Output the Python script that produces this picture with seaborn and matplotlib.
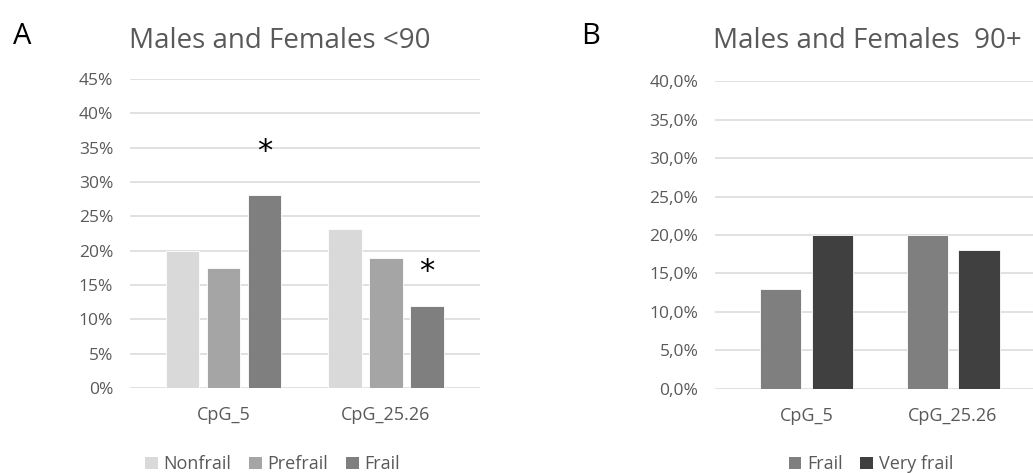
import matplotlib
matplotlib.use("Agg")
import matplotlib.pyplot as plt
from matplotlib.patches import Patch
from matplotlib.ticker import FuncFormatter
import pandas as pd
import seaborn as sns

# Panel A: under 90 years
cpg_sites = ["CpG_5", "CpG_25.26"]
groups_a = ["Nonfrail", "Prefrail", "Frail"]
nonfrail_a = [20.0, 23.1]
prefrail_a = [17.5, 19.0]
frail_a = [28.1, 12.0]
star_heights_a = [34.4, 16.9]  # asterisk positions above the frail bars

# Panel B: 90 years and older
groups_b = ["Frail", "Very frail"]
frail_b = [13.0, 20.0]
very_frail_b = [20.0, 18.0]

colors = {"Nonfrail": "#d9d9d9", "Prefrail": "#a5a5a5",
          "Frail": "#7f7f7f", "Very frail": "#404040"}

sns.set_theme(style="white")
plt.rcParams["font.family"] = ["Open Sans", "DejaVu Sans"]
TXT = "#595959"
GRID = "#d9d9d9"

df_a = pd.DataFrame({
    "site": cpg_sites * 3,
    "group": [g for g in groups_a for _ in cpg_sites],
    "value": nonfrail_a + prefrail_a + frail_a,
})
df_b = pd.DataFrame({
    "site": cpg_sites * 2,
    "group": [g for g in groups_b for _ in cpg_sites],
    "value": frail_b + very_frail_b,
})

fig = plt.figure(figsize=(10.33, 4.73), dpi=100)
ax_a = fig.add_axes([0.1258, 0.1797, 0.3389, 0.6533])
ax_b = fig.add_axes([0.6922, 0.1782, 0.3078, 0.6499])


def style_axes(ax, ymax, fmt):
    ax.set_ylim(0, ymax)
    ax.set_yticks(range(0, ymax + 1, 5))
    ax.yaxis.set_major_formatter(FuncFormatter(fmt))
    ax.grid(axis="y", color=GRID, linewidth=1.1, zorder=0)
    ax.set_axisbelow(True)
    for s in ax.spines.values():
        s.set_visible(False)
    ax.tick_params(axis="y", length=0, labelsize=12.5, labelcolor=TXT, pad=12)
    ax.tick_params(axis="x", length=0, labelsize=13, labelcolor=TXT, pad=13)
    ax.set_xlabel("")
    ax.set_ylabel("")


sns.barplot(data=df_a, x="site", y="value", hue="group", hue_order=groups_a,
            order=cpg_sites, palette=colors, width=0.757, gap=0.19,
            edgecolor="white", linewidth=0.6, ax=ax_a, legend=False)
ax_a.set_xlim(-0.575, 1.578)
style_axes(ax_a, 45, lambda v, p: f"{int(v)}%")

sns.barplot(data=df_b, x="site", y="value", hue="group", hue_order=groups_b,
            order=cpg_sites, palette=colors, width=0.711, gap=0.21,
            edgecolor="white", linewidth=0.6, ax=ax_b, legend=False)
ax_b.set_xlim(-0.628, 1.547)
style_axes(ax_b, 40, lambda v, p: f"{v:.1f}%".replace(".", ","))

# significance asterisks over the frail bars of panel A
frail_offset = 0.757 / 3
for i, h in enumerate(star_heights_a):
    ax_a.text(i + frail_offset, h, "*", ha="center", va="center",
              fontsize=22, color="black", family="DejaVu Sans")

# titles and panel letters
fig.text(0.271, 0.913, "Males and Females <90", ha="center", va="center",
         fontsize=20, color=TXT)
fig.text(0.840, 0.913, "Males and Females  90+", ha="center", va="center",
         fontsize=20, color=TXT)
fig.text(0.021, 0.922, "A", ha="center", va="center", fontsize=21, color="black")
fig.text(0.572, 0.922, "B", ha="center", va="center", fontsize=21, color="black")

# legends below each panel
def add_legend(groups, x):
    handles = [Patch(facecolor=colors[g], edgecolor="none", label=g) for g in groups]
    leg = fig.legend(handles=handles, loc="center", bbox_to_anchor=(x, 0.018),
                     ncol=len(groups), frameon=False, fontsize=13,
                     handlelength=0.7, handleheight=0.7, handletextpad=0.3,
                     columnspacing=1.0, borderaxespad=0)
    for t in leg.get_texts():
        t.set_color(TXT)


add_legend(groups_a, 0.2638)
add_legend(groups_b, 0.843)

fig.savefig("out.png", dpi=100)
